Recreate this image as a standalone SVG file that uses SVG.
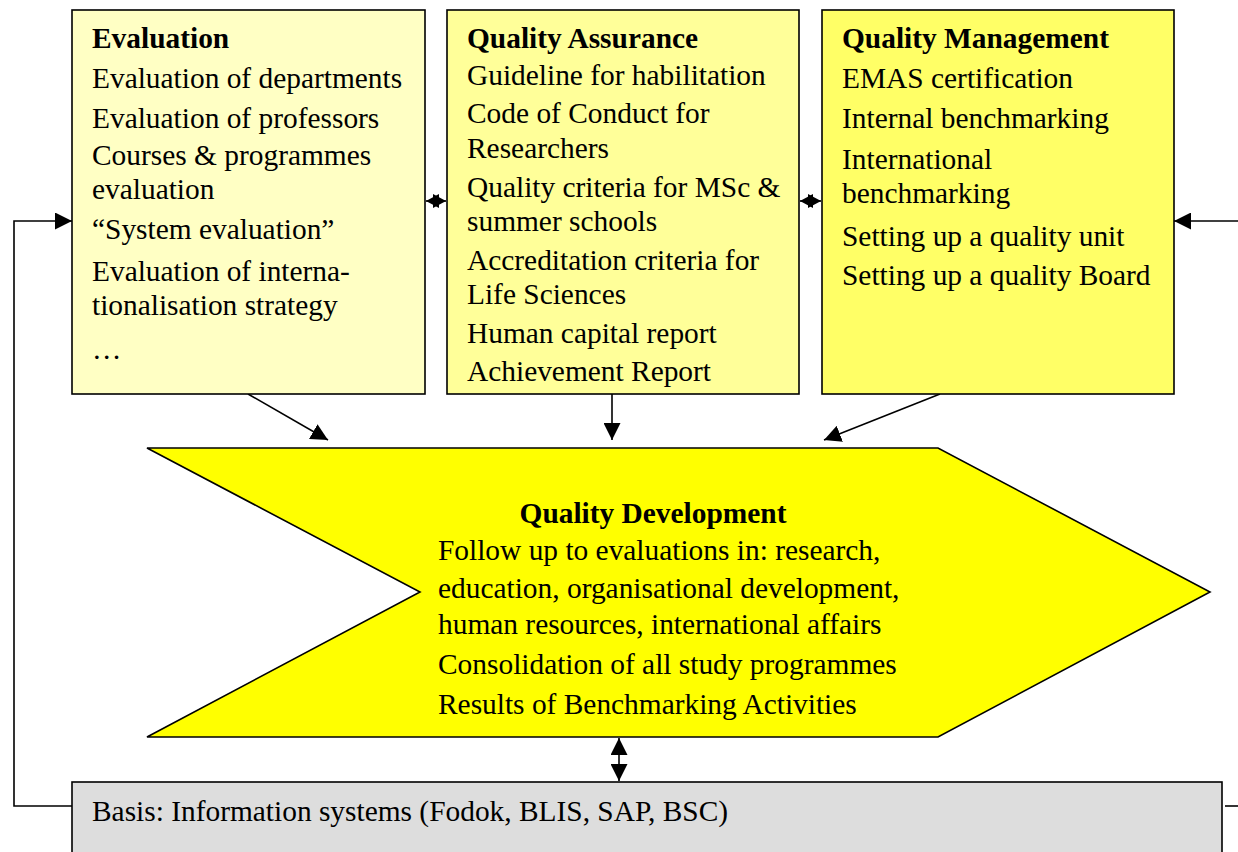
<svg xmlns="http://www.w3.org/2000/svg" width="1238" height="852" viewBox="0 0 1238 852">
  <style>
    .box { stroke: #000; stroke-width: 1.6; }
    .t { font-family: "Liberation Serif", "Times New Roman", serif; font-size: 29.4px; fill: #000; }
    .h { font-weight: bold; }
    .ln { stroke: #000; stroke-width: 1.6; fill: none; }
    .head { fill: #000; }
  </style>
  <defs>
    <marker id="ahs" viewBox="0 0 10 10" refX="10" refY="5" markerWidth="17" markerHeight="17" markerUnits="userSpaceOnUse" orient="auto-start-reverse">
      <path d="M0,0 L10,5 L0,10 z" fill="#000"/>
    </marker>
  </defs>
  <rect width="1238" height="852" fill="#fff"/>

  <g id="connectors">
    <!-- feedback loop from the basis up to Evaluation -->
    <polyline class="ln" points="72,806 14,806 14,221 72,221" marker-end="url(#ahs)"/>
    <!-- input into Quality Management from the right -->
    <line class="ln" x1="1238" y1="221" x2="1174" y2="221" marker-end="url(#ahs)"/>
    <line class="ln" x1="1225" y1="806" x2="1238" y2="806"/>
    <!-- links between the three top boxes (short double-headed arrows) -->
    <line class="ln" x1="426" y1="201" x2="446" y2="201"/>
    <polygon class="head" points="426,201 439,194 439,208"/>
    <polygon class="head" points="446,201 433,194 433,208"/>
    <line class="ln" x1="800" y1="201" x2="821" y2="201"/>
    <polygon class="head" points="800,201 813,194 813,208"/>
    <polygon class="head" points="821,201 808,194 808,208"/>
    <!-- top boxes feeding quality development -->
    <line class="ln" x1="248" y1="394" x2="328" y2="440" marker-end="url(#ahs)"/>
    <line class="ln" x1="612" y1="394" x2="612" y2="440" marker-end="url(#ahs)"/>
    <line class="ln" x1="940" y1="394" x2="824" y2="440" marker-end="url(#ahs)"/>
    <!-- development to basis -->
    <line class="ln" x1="619" y1="738" x2="619" y2="781" marker-start="url(#ahs)" marker-end="url(#ahs)"/>
  </g>

  <g id="evaluation">
    <rect class="box" x="72" y="10" width="353" height="384" fill="#FFFFC4"/>
    <text class="t h" x="92" y="48">Evaluation</text>
    <text class="t" x="92" y="88">Evaluation of departments</text>
    <text class="t" x="92" y="128">Evaluation of professors</text>
    <text class="t" x="92" y="165">Courses &amp; programmes</text>
    <text class="t" x="92" y="199">evaluation</text>
    <text class="t" x="92" y="239">“System evaluation”</text>
    <text class="t" x="92" y="281">Evaluation of interna-</text>
    <text class="t" x="92" y="315">tionalisation strategy</text>
    <text class="t" x="92" y="359">…</text>
  </g>

  <g id="quality-assurance">
    <rect class="box" x="447" y="10" width="352" height="384" fill="#FFFF99"/>
    <text class="t h" x="467" y="48">Quality Assurance</text>
    <text class="t" x="467" y="85">Guideline for habilitation</text>
    <text class="t" x="467" y="123">Code of Conduct for</text>
    <text class="t" x="467" y="158">Researchers</text>
    <text class="t" x="467" y="197">Quality criteria for MSc &amp;</text>
    <text class="t" x="467" y="231">summer schools</text>
    <text class="t" x="467" y="270">Accreditation criteria for</text>
    <text class="t" x="467" y="304">Life Sciences</text>
    <text class="t" x="467" y="343">Human capital report</text>
    <text class="t" x="467" y="381">Achievement Report</text>
  </g>

  <g id="quality-management">
    <rect class="box" x="822" y="10" width="352" height="384" fill="#FFFF66"/>
    <text class="t h" x="842" y="48">Quality Management</text>
    <text class="t" x="842" y="88">EMAS certification</text>
    <text class="t" x="842" y="128">Internal benchmarking</text>
    <text class="t" x="842" y="169">International</text>
    <text class="t" x="842" y="203">benchmarking</text>
    <text class="t" x="842" y="246">Setting up a quality unit</text>
    <text class="t" x="842" y="285">Setting up a quality Board</text>
  </g>

  <g id="quality-development">
    <polygon class="box" points="147,448 938,448 1210,592 938,737 147,737 420,592" fill="#FFFF00"/>
    <text class="t h" x="653" y="523" text-anchor="middle">Quality Development</text>
    <text class="t" x="438" y="560">Follow up to evaluations in: research,</text>
    <text class="t" x="438" y="598">education, organisational development,</text>
    <text class="t" x="438" y="634">human resources, international affairs</text>
    <text class="t" x="438" y="674">Consolidation of all study programmes</text>
    <text class="t" x="438" y="714">Results of Benchmarking Activities</text>
  </g>

  <g id="basis">
    <rect class="box" x="72" y="782" width="1150" height="90" fill="#DDDDDD"/>
    <text class="t" x="92" y="821" font-size="27">Basis: Information systems (Fodok, BLIS, SAP, BSC)</text>
  </g>
</svg>
